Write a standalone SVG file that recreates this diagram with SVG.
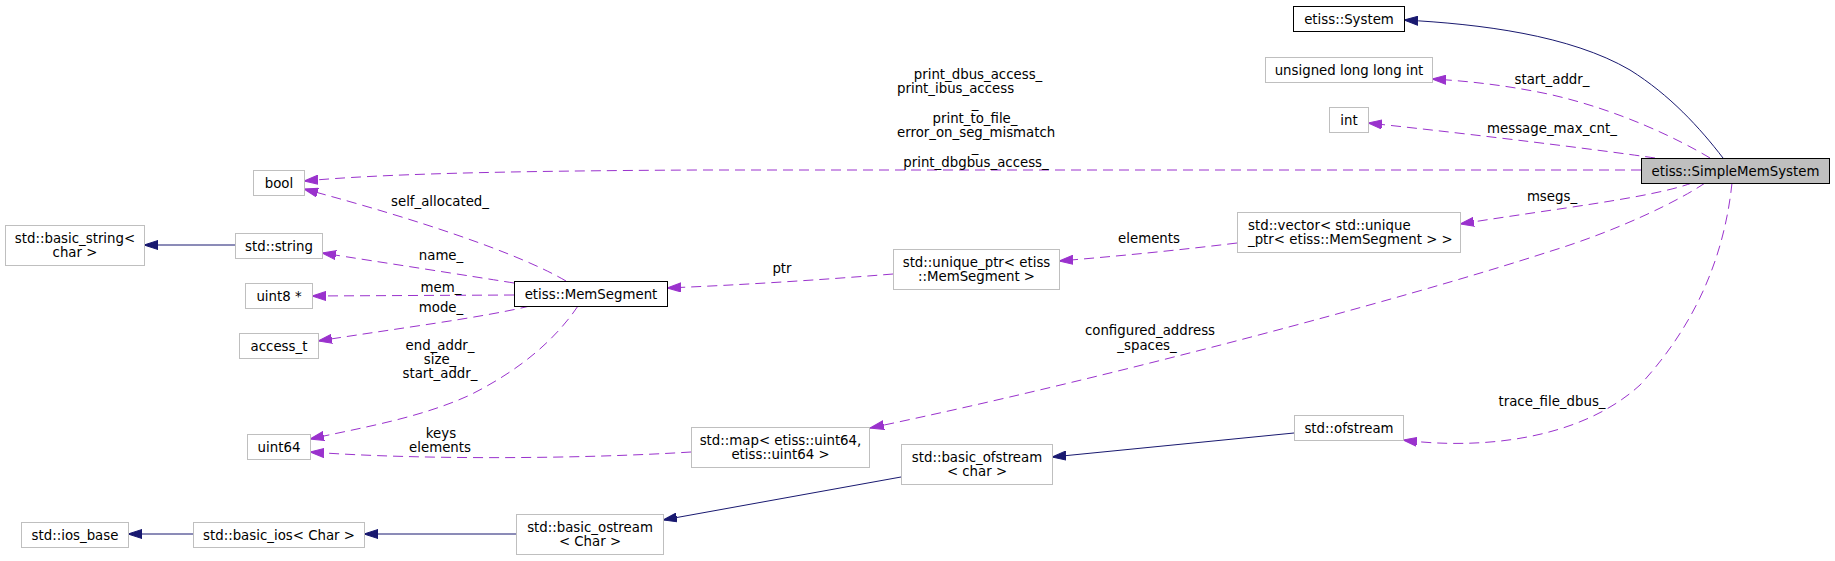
<svg xmlns="http://www.w3.org/2000/svg" width="1835" height="561" viewBox="0 0 1835 561">
<style>
.bg{fill:#fff}
.n rect{fill:#fff;stroke:#bfbfbf;stroke-width:1}
.n.d rect{stroke:#000}
.n.c rect{fill:#bfbfbf;stroke:#000}
text{font-family:"DejaVu Sans","Liberation Sans",sans-serif;font-size:13.33px;fill:#000;text-anchor:middle}
text.l{text-anchor:start}
.e{fill:none;stroke:#9a32cd;stroke-width:1;stroke-dasharray:10,6;marker-end:url(#ap)}
.i{fill:none;stroke:#191970;stroke-width:1;marker-end:url(#ab)}
</style>
<defs>
<marker id="ap" viewBox="0 0 14 10" refX="14" refY="5" markerWidth="14" markerHeight="10" markerUnits="userSpaceOnUse" orient="auto"><path d="M0,0.5 L14,5 L0,9.5 z" fill="#9a32cd" stroke="#9a32cd" stroke-width="1"/></marker>
<marker id="ab" viewBox="0 0 14 10" refX="14" refY="5" markerWidth="14" markerHeight="10" markerUnits="userSpaceOnUse" orient="auto"><path d="M0,0.5 L14,5 L0,9.5 z" fill="#191970" stroke="#191970" stroke-width="1"/></marker>
</defs>
<rect class="bg" x="0" y="0" width="1835" height="561"/>
<g id="connectors">
<path class="i" d="M1723,158 C1700,128 1670,95 1630,70 C1570,35 1480,24 1404,20"/>
<path class="e" d="M1710,158 C1680,140 1620,110 1548,94 C1510,86 1470,81 1432,79"/>
<path class="e" d="M1655,158 C1600,150 1480,135 1368,123"/>
<path class="e" d="M1641,170 L700,170 C500,171 380,174 304,181"/>
<path class="e" d="M566,281 C520,254 420,220 304,189"/>
<path class="e" d="M514,283 C470,276 380,262 322,253"/>
<path class="e" d="M514,295 L312,296"/>
<path class="e" d="M530,306 C480,318 400,328 318,341"/>
<path class="e" d="M578,306 C555,340 520,370 470,395 C420,418 360,428 310,439"/>
<path class="e" d="M691,452 C580,459 420,460 310,452"/>
<path class="e" d="M893,274 C820,280 740,285 667,288"/>
<path class="e" d="M1237,243 C1180,250 1120,256 1059,261"/>
<path class="e" d="M1692,183 C1650,198 1560,208 1460,224"/>
<path class="e" d="M1705,183 C1680,200 1620,230 1548,252 C1400,300 1100,380 870,428"/>
<path class="e" d="M1732,183 C1725,250 1700,320 1640,385 C1580,440 1480,450 1403,440"/>
<path class="i" d="M235,245 L144,245"/>
<path class="i" d="M1294,433 L1052,457"/>
<path class="i" d="M901,477 L663,520"/>
<path class="i" d="M516,534 L364,534"/>
<path class="i" d="M193,534 L128,534"/>
<text x="978" y="78.5">print_dbus_access_</text>
<text class="l" x="897" y="93.2">print_ibus_access</text>
<text x="975" y="107.9">_</text>
<text x="975" y="122.6">print_to_file_</text>
<text class="l" x="897" y="137.3">error_on_seg_mismatch</text>
<text x="975" y="152">_</text>
<text x="976" y="166.7">print_dbgbus_access_</text>
<text x="440" y="205.7">self_allocated_</text>
<text x="441" y="259.7">name_</text>
<text x="441" y="291.7">mem_</text>
<text x="441" y="311.7">mode_</text>
<text x="440" y="349.7">end_addr_</text>
<text x="440" y="363.7">size_</text>
<text x="440" y="377.7">start_addr_</text>
<text x="441" y="437.7">keys</text>
<text x="440" y="451.7">elements</text>
<text x="782" y="272.7">ptr</text>
<text x="1149" y="242.7">elements</text>
<text x="1150" y="334.7">configured_address</text>
<text x="1147" y="349.7">_spaces_</text>
<text x="1552" y="83.7">start_addr_</text>
<text x="1552" y="132.7">message_max_cnt_</text>
<text x="1552" y="200.7">msegs_</text>
<text x="1552" y="405.7">trace_file_dbus_</text>
</g>
<g id="n_system" class="n d"><rect x="1293.5" y="6.5" width="111" height="25"/><text x="1349" y="23.5">etiss::System</text></g>
<g id="n_ulli" class="n"><rect x="1265.5" y="57.5" width="167" height="25"/><text x="1349" y="74.5">unsigned long long int</text></g>
<g id="n_int" class="n"><rect x="1329.5" y="107.5" width="39" height="25"/><text x="1349" y="124.5">int</text></g>
<g id="n_sms" class="n c"><rect x="1641.5" y="158.5" width="188" height="25"/><text x="1735.5" y="175.5">etiss::SimpleMemSystem</text></g>
<g id="n_bool" class="n"><rect x="253.5" y="170.5" width="51" height="25"/><text x="279" y="187.5">bool</text></g>
<g id="n_basic_string" class="n"><rect x="5.5" y="225.5" width="139" height="40"/><text x="75" y="242.5">std::basic_string&lt;</text><text x="75" y="257">char &gt;</text></g>
<g id="n_string" class="n"><rect x="235.5" y="233.5" width="87" height="25"/><text x="279" y="250.5">std::string</text></g>
<g id="n_uint8" class="n"><rect x="245.5" y="283.5" width="67" height="25"/><text x="279" y="300.5">uint8 *</text></g>
<g id="n_access" class="n"><rect x="239.5" y="333.5" width="79" height="25"/><text x="279" y="350.5">access_t</text></g>
<g id="n_memseg" class="n d"><rect x="514.5" y="281.5" width="153" height="25"/><text x="591" y="298.5">etiss::MemSegment</text></g>
<g id="n_uint64" class="n"><rect x="247.5" y="434.5" width="63" height="25"/><text x="279" y="451.5">uint64</text></g>
<g id="n_ios_base" class="n"><rect x="21.5" y="522.5" width="107" height="25"/><text x="75" y="539.5">std::ios_base</text></g>
<g id="n_basic_ios" class="n"><rect x="193.5" y="522.5" width="171" height="25"/><text x="279" y="539.5">std::basic_ios&lt; Char &gt;</text></g>
<g id="n_basic_ostream" class="n"><rect x="516.5" y="514.5" width="147" height="40"/><text x="590" y="531.5">std::basic_ostream</text><text x="590" y="546">&lt; Char &gt;</text></g>
<g id="n_map" class="n"><rect x="691.5" y="427.5" width="178" height="40"/><text x="780.5" y="444.5">std::map&lt; etiss::uint64,</text><text x="780.5" y="459">etiss::uint64 &gt;</text></g>
<g id="n_basic_ofstream" class="n"><rect x="901.5" y="444.5" width="151" height="40"/><text x="977" y="461.5">std::basic_ofstream</text><text x="977" y="476">&lt; char &gt;</text></g>
<g id="n_ofstream" class="n"><rect x="1294.5" y="415.5" width="109" height="25"/><text x="1349" y="432.5">std::ofstream</text></g>
<g id="n_unique_ptr" class="n"><rect x="893.5" y="249.5" width="166" height="40"/><text x="976.5" y="266.5">std::unique_ptr&lt; etiss</text><text x="976.5" y="281">::MemSegment &gt;</text></g>
<g id="n_vector" class="n"><rect x="1237.5" y="212.5" width="223" height="40"/><text class="l" x="1248" y="229.5">std::vector&lt; std::unique</text><text class="l" x="1248" y="244">_ptr&lt; etiss::MemSegment &gt; &gt;</text></g>
</svg>
